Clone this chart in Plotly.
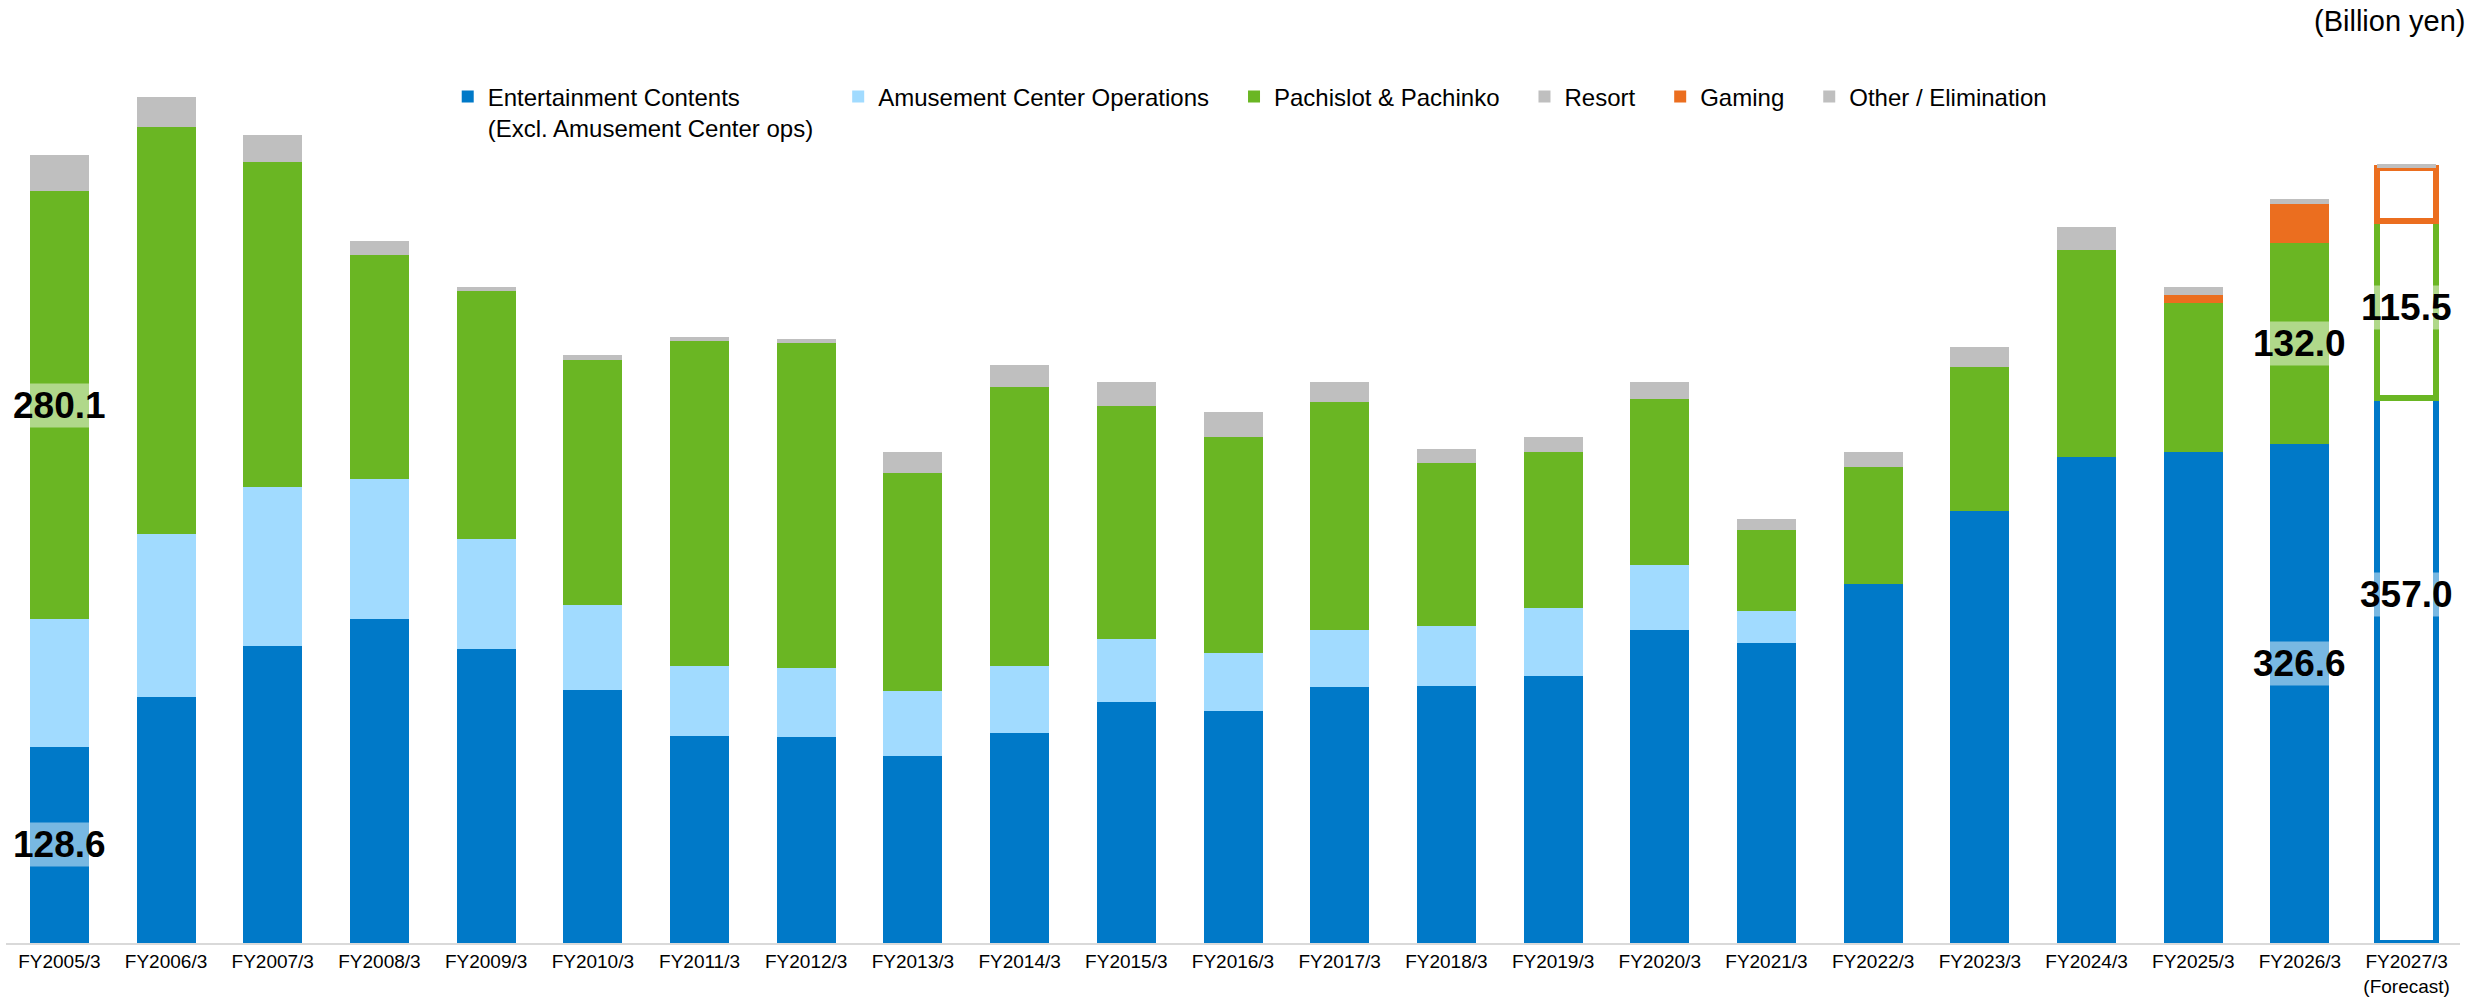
import plotly.graph_objects as go

# ---------------- data ----------------
categories = ["FY2005/3", "FY2006/3", "FY2007/3", "FY2008/3", "FY2009/3", "FY2010/3",
              "FY2011/3", "FY2012/3", "FY2013/3", "FY2014/3", "FY2015/3", "FY2016/3",
              "FY2017/3", "FY2018/3", "FY2019/3", "FY2020/3", "FY2021/3", "FY2022/3",
              "FY2023/3", "FY2024/3", "FY2025/3", "FY2026/3", "FY2027/3<br>(Forecast)"]

entertainment = [128.6, 161.2, 194.3, 212.1, 192.5, 165.9, 135.3, 135.0, 122.2, 137.5, 157.5, 151.7,
                 167.7, 168.4, 175.0, 205.2, 196.5, 235.4, 282.7, 318.0, 321.6, 326.6, 357.0]
amusement = [83.6, 106.9, 104.4, 92.0, 72.3, 55.7, 46.2, 45.1, 43.0, 44.0, 41.5, 38.2,
             37.5, 39.3, 44.4, 42.5, 21.1, 0, 0, 0, 0, 0, 0]
pachislot = [280.1, 266.3, 212.4, 146.3, 161.9, 160.4, 212.9, 212.8, 142.6, 182.3, 152.8, 141.5,
             148.8, 106.3, 101.8, 108.5, 53.1, 76.4, 94.6, 136.0, 97.5, 132.0, 115.5]
resort = [0, 0, 0, 0, 0, 0, 0, 0, 13.4, 14.6, 15.3, 16.4,
          13.4, 9.8, 10.2, 10.9, 7.2, 9.4, 12.7, 14.6, 0, 0, 0]
gaming = [0, 0, 0, 0, 0, 0, 0, 0, 0, 0, 0, 0,
          0, 0, 0, 0, 0, 0, 0, 0, 5.4, 25.5, 34.7]
other = [23.6, 19.7, 17.9, 9.1, 2.9, 2.9, 2.5, 2.9, 0, 0, 0, 0,
         0, 0, 0, 0, 0, 0, 0, 0, 5.1, 3.3, 3.0]

series_names = ["Entertainment Contents<br>(Excl. Amusement Center ops)",
                "Amusement Center Operations", "Pachislot & Pachinko",
                "Resort", "Gaming", "Other / Elimination"]
series_values = [entertainment, amusement, pachislot, resort, gaming, other]

forecast_index = 22

# labelled segments: (category index, series index)
labelled = [(0, 0), (0, 2), (21, 0), (21, 2), (22, 0), (22, 2)]

# ---------------- styling ----------------
colors = ["#0079C8", "#A1DBFF", "#6AB623", "#BFBFBF", "#EB6E1F", "#BFBFBF"]
outline_forecast = [True, True, True, True, True, False]
label_pos = [0.5, 0.5, 0.56, 0.5, 0.64, 0.51]   # relative height of label inside its segment
FONT = "Arial, 'Liberation Sans', sans-serif"
LEGEND_PAD = "&nbsp;&nbsp;&nbsp;"

fig = go.Figure()
n = len(categories)
for name, vals, col, outl in zip(series_names, series_values, colors, outline_forecast):
    fill = [col] * n
    lw = [0] * n
    if outl:
        fill[forecast_index] = "#FFFFFF"
        lw[forecast_index] = 6
    fig.add_trace(go.Bar(
        x=categories, y=vals, name=name + LEGEND_PAD,
        marker=dict(color=fill, line=dict(color=col, width=lw)),
        hoverinfo="x+y",
    ))

annotations = []
for (ci, si), pos in zip(labelled, label_pos):
    base = sum(series_values[k][ci] for k in range(si))
    v = series_values[si][ci]
    annotations.append(dict(
        x=categories[ci], y=base + v * pos, xref="x", yref="y",
        text=f"{v:.1f}", showarrow=False,
        font=dict(family=FONT, size=37, color="#000000", weight="bold"),
        bgcolor="rgba(255,255,255,0.47)", borderpad=1,
        xanchor="center", yanchor="middle",
    ))
annotations.append(dict(
    x=1.0033, y=1.023, xref="paper", yref="paper", text="(Billion yen)",
    showarrow=False, xanchor="right", yanchor="middle",
    font=dict(family=FONT, size=29, color="#000000"),
))

fig.update_layout(
    width=2486, height=997,
    barmode="stack", bargap=0.447,
    paper_bgcolor="#FFFFFF", plot_bgcolor="#FFFFFF",
    margin=dict(l=6, r=26, t=42, b=54),
    font=dict(family=FONT, color="#000000"),
    xaxis=dict(type="category", showgrid=False, zeroline=False, automargin=False,
               showline=True, linecolor="#D9D9D9", linewidth=2,
               ticks="", ticklabelstandoff=0,
               tickfont=dict(family=FONT, size=19, color="#000000")),
    yaxis=dict(range=[0, 590], visible=False, showgrid=False, zeroline=False),
    legend=dict(orientation="h", x=0.18, y=0.964, xanchor="left", yanchor="top",
                valign="top", font=dict(family=FONT, size=24, color="#000000"),
                bgcolor="rgba(0,0,0,0)", traceorder="normal"),
    annotations=annotations,
    showlegend=True,
)

fig.write_html("out.html")
